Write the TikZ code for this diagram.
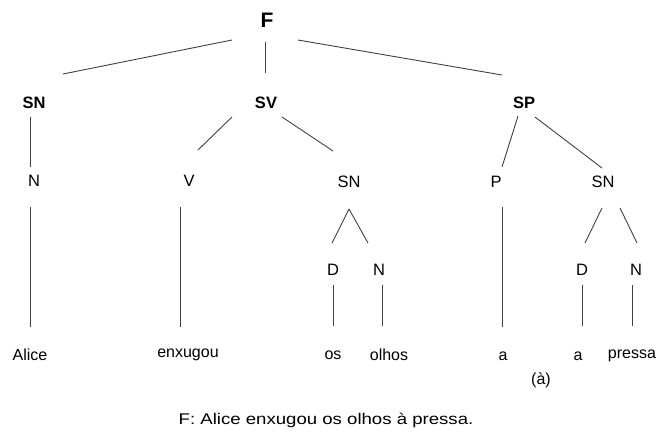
\documentclass[tikz,border=0pt]{standalone}
\usepackage{fontspec}
\setmainfont{Liberation Sans}
\newfontfamily\legfont[FakeStretch=1.2]{Liberation Sans}
\usetikzlibrary{calc}

\begin{document}
\begin{tikzpicture}[x=1pt, y=-1pt]
\tikzset{racine/.style={font=\fontsize{21}{24}\selectfont\bfseries, inner sep=0pt},
  syntagme/.style={font=\fontsize{16.5}{18}\selectfont\bfseries, inner sep=0pt},
  categorie/.style={font=\fontsize{16.5}{18}\selectfont, inner sep=0pt},
  mot/.style={font=\fontsize{16}{18}\selectfont, inner sep=0pt},
  branche/.style={draw=black!75, line width=0.9pt}}
\useasboundingbox (0, 0) rectangle (663, 437);
\node[racine] (F) at (267, 20) {F};
\node[syntagme] (SN1) at (34, 103) {SN};
\node[syntagme] (SV) at (266, 103) {SV};
\node[syntagme] (SP) at (524, 103) {SP};
\node[categorie] (N1) at (34, 181) {N};
\node[categorie] (V) at (189, 181) {V};
\node[categorie] (SN2) at (349, 182) {SN};
\node[categorie] (P) at (496, 182) {P};
\node[categorie] (SN3) at (603, 182) {SN};
\node[categorie] (D1) at (333, 270) {D};
\node[categorie] (N2) at (379, 270) {N};
\node[categorie] (D2) at (582, 270) {D};
\node[categorie] (N3) at (636, 270) {N};
\node[mot] (alice) at (30, 355) {Alice};
\node[mot] (enxugou) at (188, 355) {enxugou};
\node[mot] (os) at (333, 355) {os};
\node[mot] (olhos) at (389, 355) {olhos};
\node[mot] (a1) at (503, 356) {a};
\node[mot] (a2) at (578, 356) {a};
\node[mot] (pressa) at (632, 356) {pressa};
\node[mot] (crase) at (541, 380) {(à)};
\node[font=\legfont\fontsize{15.5}{18}\selectfont, inner sep=0pt] (frase) at (326, 420) {F: Alice enxugou os olhos à pressa.};
\draw[branche] ($(F)+(-35, 20)$) -- ($(SN1)+(29, -29)$);
\draw[branche] ($(F)+(-2, 22)$) -- ($(SV)+(-1, -30)$);
\draw[branche] ($(F)+(31, 20)$) -- ($(SP)+(-22, -28)$);
\draw[branche] ($(SN1)+(-4, 14)$) -- ($(N1)+(-4, -14)$);
\draw[branche] ($(SV)+(-34, 14)$) -- ($(V)+(9, -31)$);
\draw[branche] ($(SV)+(16, 14)$) -- ($(SN2)+(-16, -31)$);
\draw[branche] ($(SP)+(-6, 13)$) -- ($(P)+(6, -15)$);
\draw[branche] ($(SP)+(11, 14)$) -- ($(SN3)+(-1, -14)$);
\draw[branche] ($(N1)+(-4, 26)$) -- ($(alice)+(0, -28)$);
\draw[branche] ($(V)+(-9, 26)$) -- ($(enxugou)+(-8, -28)$);
\draw[branche] ($(SN2)+(0, 27)$) -- ($(D1)+(-1, -27)$);
\draw[branche] ($(SN2)+(0, 27)$) -- ($(N2)+(-11, -27)$);
\draw[branche] ($(P)+(6, 25)$) -- ($(a1)+(-1, -29)$);
\draw[branche] ($(SN3)+(-1, 26)$) -- ($(D2)+(3, -27)$);
\draw[branche] ($(SN3)+(17, 26)$) -- ($(N3)+(1, -27)$);
\draw[branche] ($(D1)+(0, 15)$) -- ($(os)+(0, -29)$);
\draw[branche] ($(N2)+(3, 15)$) -- ($(olhos)+(-7, -29)$);
\draw[branche] ($(D2)+(0, 15)$) -- ($(a2)+(4, -30)$);
\draw[branche] ($(N3)+(-4, 15)$) -- ($(pressa)+(0, -30)$);
\end{tikzpicture}
\end{document}
